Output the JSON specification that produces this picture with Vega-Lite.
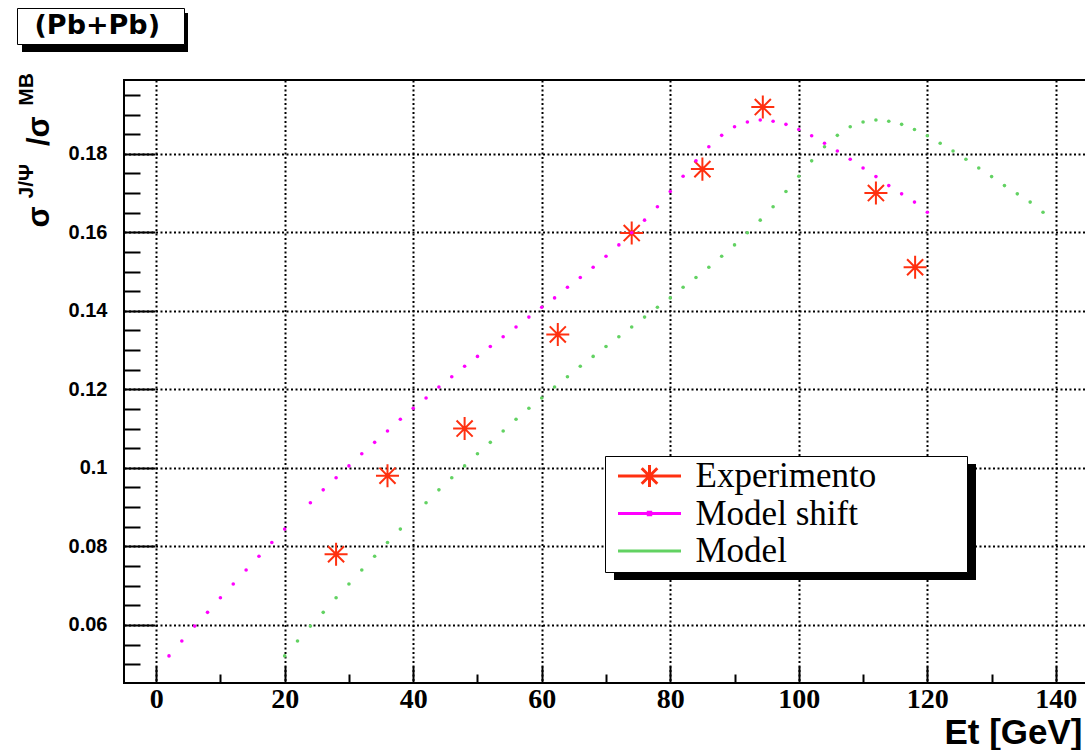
{
  "$schema": "https://vega.github.io/schema/vega-lite/v6.json",
  "width": 964,
  "height": 603,
  "autosize": {"type": "none"},
  "padding": {"left": 124, "top": 80, "right": 0, "bottom": 67},
  "background": "white",
  "config": {"view": {"stroke": "black", "strokeWidth": 2}},
  "datasets": {
    "pts": [
      {"series": "Model shift", "Et": 2, "ratio": 0.0521},
      {"series": "Model shift", "Et": 4, "ratio": 0.0559},
      {"series": "Model shift", "Et": 6, "ratio": 0.0597},
      {"series": "Model shift", "Et": 8, "ratio": 0.0632},
      {"series": "Model shift", "Et": 10, "ratio": 0.0669},
      {"series": "Model shift", "Et": 12, "ratio": 0.0704},
      {"series": "Model shift", "Et": 14, "ratio": 0.0740},
      {"series": "Model shift", "Et": 16, "ratio": 0.0775},
      {"series": "Model shift", "Et": 18, "ratio": 0.0810},
      {"series": "Model shift", "Et": 20, "ratio": 0.0844},
      {"series": "Model shift", "Et": 24, "ratio": 0.0911},
      {"series": "Model shift", "Et": 26, "ratio": 0.0944},
      {"series": "Model shift", "Et": 28, "ratio": 0.0975},
      {"series": "Model shift", "Et": 30, "ratio": 0.1005},
      {"series": "Model shift", "Et": 32, "ratio": 0.1036},
      {"series": "Model shift", "Et": 34, "ratio": 0.1065},
      {"series": "Model shift", "Et": 36, "ratio": 0.1094},
      {"series": "Model shift", "Et": 38, "ratio": 0.1124},
      {"series": "Model shift", "Et": 40, "ratio": 0.1152},
      {"series": "Model shift", "Et": 42, "ratio": 0.1178},
      {"series": "Model shift", "Et": 44, "ratio": 0.1206},
      {"series": "Model shift", "Et": 46, "ratio": 0.1232},
      {"series": "Model shift", "Et": 48, "ratio": 0.1259},
      {"series": "Model shift", "Et": 50, "ratio": 0.1284},
      {"series": "Model shift", "Et": 52, "ratio": 0.1309},
      {"series": "Model shift", "Et": 54, "ratio": 0.1334},
      {"series": "Model shift", "Et": 56, "ratio": 0.1359},
      {"series": "Model shift", "Et": 58, "ratio": 0.1384},
      {"series": "Model shift", "Et": 60, "ratio": 0.1409},
      {"series": "Model shift", "Et": 62, "ratio": 0.1433},
      {"series": "Model shift", "Et": 64, "ratio": 0.1460},
      {"series": "Model shift", "Et": 66, "ratio": 0.1485},
      {"series": "Model shift", "Et": 68, "ratio": 0.1511},
      {"series": "Model shift", "Et": 70, "ratio": 0.1539},
      {"series": "Model shift", "Et": 72, "ratio": 0.1568},
      {"series": "Model shift", "Et": 74, "ratio": 0.1599},
      {"series": "Model shift", "Et": 76, "ratio": 0.1631},
      {"series": "Model shift", "Et": 78, "ratio": 0.1665},
      {"series": "Model shift", "Et": 80, "ratio": 0.1704},
      {"series": "Model shift", "Et": 82, "ratio": 0.1743},
      {"series": "Model shift", "Et": 84, "ratio": 0.1782},
      {"series": "Model shift", "Et": 86, "ratio": 0.1818},
      {"series": "Model shift", "Et": 88, "ratio": 0.1847},
      {"series": "Model shift", "Et": 90, "ratio": 0.1869},
      {"series": "Model shift", "Et": 92, "ratio": 0.1881},
      {"series": "Model shift", "Et": 94, "ratio": 0.1886},
      {"series": "Model shift", "Et": 96, "ratio": 0.1883},
      {"series": "Model shift", "Et": 98, "ratio": 0.1875},
      {"series": "Model shift", "Et": 100, "ratio": 0.1862},
      {"series": "Model shift", "Et": 102, "ratio": 0.1846},
      {"series": "Model shift", "Et": 104, "ratio": 0.1827},
      {"series": "Model shift", "Et": 106, "ratio": 0.1807},
      {"series": "Model shift", "Et": 108, "ratio": 0.1786},
      {"series": "Model shift", "Et": 110, "ratio": 0.1764},
      {"series": "Model shift", "Et": 112, "ratio": 0.1742},
      {"series": "Model shift", "Et": 114, "ratio": 0.1719},
      {"series": "Model shift", "Et": 116, "ratio": 0.1698},
      {"series": "Model shift", "Et": 118, "ratio": 0.1677},
      {"series": "Model shift", "Et": 120, "ratio": 0.1651},
      {"series": "Model", "Et": 20, "ratio": 0.0521},
      {"series": "Model", "Et": 22, "ratio": 0.0559},
      {"series": "Model", "Et": 24, "ratio": 0.0597},
      {"series": "Model", "Et": 26, "ratio": 0.0632},
      {"series": "Model", "Et": 28, "ratio": 0.0669},
      {"series": "Model", "Et": 30, "ratio": 0.0704},
      {"series": "Model", "Et": 32, "ratio": 0.0740},
      {"series": "Model", "Et": 34, "ratio": 0.0775},
      {"series": "Model", "Et": 36, "ratio": 0.0810},
      {"series": "Model", "Et": 38, "ratio": 0.0844},
      {"series": "Model", "Et": 42, "ratio": 0.0911},
      {"series": "Model", "Et": 44, "ratio": 0.0944},
      {"series": "Model", "Et": 46, "ratio": 0.0975},
      {"series": "Model", "Et": 48, "ratio": 0.1005},
      {"series": "Model", "Et": 50, "ratio": 0.1036},
      {"series": "Model", "Et": 52, "ratio": 0.1065},
      {"series": "Model", "Et": 54, "ratio": 0.1094},
      {"series": "Model", "Et": 56, "ratio": 0.1124},
      {"series": "Model", "Et": 58, "ratio": 0.1152},
      {"series": "Model", "Et": 60, "ratio": 0.1178},
      {"series": "Model", "Et": 62, "ratio": 0.1206},
      {"series": "Model", "Et": 64, "ratio": 0.1232},
      {"series": "Model", "Et": 66, "ratio": 0.1259},
      {"series": "Model", "Et": 68, "ratio": 0.1284},
      {"series": "Model", "Et": 70, "ratio": 0.1309},
      {"series": "Model", "Et": 72, "ratio": 0.1334},
      {"series": "Model", "Et": 74, "ratio": 0.1359},
      {"series": "Model", "Et": 76, "ratio": 0.1384},
      {"series": "Model", "Et": 78, "ratio": 0.1409},
      {"series": "Model", "Et": 80, "ratio": 0.1433},
      {"series": "Model", "Et": 82, "ratio": 0.1460},
      {"series": "Model", "Et": 84, "ratio": 0.1485},
      {"series": "Model", "Et": 86, "ratio": 0.1511},
      {"series": "Model", "Et": 88, "ratio": 0.1539},
      {"series": "Model", "Et": 90, "ratio": 0.1568},
      {"series": "Model", "Et": 92, "ratio": 0.1599},
      {"series": "Model", "Et": 94, "ratio": 0.1631},
      {"series": "Model", "Et": 96, "ratio": 0.1665},
      {"series": "Model", "Et": 98, "ratio": 0.1704},
      {"series": "Model", "Et": 100, "ratio": 0.1743},
      {"series": "Model", "Et": 102, "ratio": 0.1782},
      {"series": "Model", "Et": 104, "ratio": 0.1818},
      {"series": "Model", "Et": 106, "ratio": 0.1847},
      {"series": "Model", "Et": 108, "ratio": 0.1869},
      {"series": "Model", "Et": 110, "ratio": 0.1881},
      {"series": "Model", "Et": 112, "ratio": 0.1886},
      {"series": "Model", "Et": 114, "ratio": 0.1883},
      {"series": "Model", "Et": 116, "ratio": 0.1875},
      {"series": "Model", "Et": 118, "ratio": 0.1862},
      {"series": "Model", "Et": 120, "ratio": 0.1846},
      {"series": "Model", "Et": 122, "ratio": 0.1827},
      {"series": "Model", "Et": 124, "ratio": 0.1807},
      {"series": "Model", "Et": 126, "ratio": 0.1786},
      {"series": "Model", "Et": 128, "ratio": 0.1764},
      {"series": "Model", "Et": 130, "ratio": 0.1742},
      {"series": "Model", "Et": 132, "ratio": 0.1719},
      {"series": "Model", "Et": 134, "ratio": 0.1698},
      {"series": "Model", "Et": 136, "ratio": 0.1677},
      {"series": "Model", "Et": 138, "ratio": 0.1651},
      {"series": "Experimento", "Et": 28, "ratio": 0.0780},
      {"series": "Experimento", "Et": 36, "ratio": 0.0980},
      {"series": "Experimento", "Et": 48, "ratio": 0.1100},
      {"series": "Experimento", "Et": 62.5, "ratio": 0.1340},
      {"series": "Experimento", "Et": 74, "ratio": 0.1598},
      {"series": "Experimento", "Et": 85, "ratio": 0.1761},
      {"series": "Experimento", "Et": 94.4, "ratio": 0.1919},
      {"series": "Experimento", "Et": 112, "ratio": 0.1700},
      {"series": "Experimento", "Et": 118.1, "ratio": 0.1511}
    ],
    "legrows": [{"series": "Experimento"}, {"series": "Model shift"}, {"series": "Model"}],
    "legshadow": [{"s": "shadow"}],
    "tagrows": [{"tag": "(Pb+Pb)"}],
    "tagshadow": [{"tag_s": "shadow"}]
  },
  "resolve": {"axis": {"y": "independent"}},
  "layer": [
    {
      "data": {"name": "pts"},
      "transform": [{"filter": "datum.series === 'Experimento'"}],
      "mark": {"type": "point", "shape": "M-1,0H1M0,-1V1M-0.7,-0.7L0.7,0.7M-0.7,0.7L0.7,-0.7", "size": 530, "stroke": "#ff3010", "strokeWidth": 2, "filled": false, "opacity": 1},
      "encoding": {
        "x": {
          "field": "Et", "type": "quantitative",
          "scale": {"domain": [-5, 145], "nice": false, "zero": false},
          "axis": {
            "orient": "bottom",
            "values": [0, 5, 10, 15, 20, 25, 30, 35, 40, 45, 50, 55, 60, 65, 70, 75, 80, 85, 90, 95, 100, 105, 110, 115, 120, 125, 130, 135, 140],
            "domain": false,
            "grid": true, "gridColor": "black", "gridDash": [2, 2.5], "gridWidth": 2,
            "gridOpacity": {"condition": {"test": "datum.value % 20 === 0", "value": 1}, "value": 0},
            "ticks": true, "tickColor": "black", "tickWidth": 2,
            "tickSize": {"condition": {"test": "datum.value % 20 === 0", "value": -17}, "value": -9},
            "labelExpr": "datum.value % 20 === 0 ? datum.label : ''",
            "labelFont": "Liberation Sans Narrow", "labelFontWeight": "bold", "labelFontSize": 28, "labelColor": "black",
            "labelPadding": 19, "labelOverlap": false, "labelFlush": false, "labelBound": false,
            "title": "Et [GeV]", "titleFont": "Liberation Sans", "titleFontWeight": "bold", "titleFontSize": 35, "titleColor": "black",
            "titleX": 958, "titleY": 60, "titleAlign": "right", "titleBaseline": "alphabetic"
          }
        },
        "y": {
          "field": "ratio", "type": "quantitative",
          "scale": {"domain": [0.0452, 0.1988], "nice": false, "zero": false},
          "axis": {
            "orient": "left",
            "values": [0.05, 0.055, 0.06, 0.065, 0.07, 0.075, 0.08, 0.085, 0.09, 0.095, 0.1, 0.105, 0.11, 0.115, 0.12, 0.125, 0.13, 0.135, 0.14, 0.145, 0.15, 0.155, 0.16, 0.165, 0.17, 0.175, 0.18, 0.185, 0.19, 0.195],
            "domain": false,
            "grid": true, "gridColor": "black", "gridDash": [2, 2.5], "gridWidth": 2,
            "gridOpacity": {"condition": {"test": "abs(datum.value*50 - round(datum.value*50)) < 0.001", "value": 1}, "value": 0},
            "ticks": true, "tickColor": "black", "tickWidth": 2,
            "tickSize": {"condition": {"test": "abs(datum.value*50 - round(datum.value*50)) < 0.001", "value": -31}, "value": -16},
            "labelExpr": "abs(datum.value*50 - round(datum.value*50)) < 0.001 ? format(datum.value, '.2~f') : ''",
            "labelFont": "Liberation Sans", "labelFontWeight": "bold", "labelFontSize": 20, "labelColor": "black",
            "labelPadding": 48, "labelOverlap": false, "labelFlush": false, "labelBound": false,
            "title": "σ\u00a0\u00a0\u00a0\u00a0\u00a0\u00a0\u00a0/σ", "titleFont": "Liberation Sans", "titleFontWeight": "bold", "titleFontSize": 31, "titleColor": "black",
            "titleAngle": -90, "titleAlign": "left", "titleBaseline": "alphabetic", "titleX": -76, "titleY": 147
          }
        }
      }
    },
    {
      "data": {"name": "pts"},
      "transform": [{"filter": "datum.series !== 'Experimento'"}],
      "mark": {"type": "circle", "size": 13, "opacity": 1},
      "encoding": {
        "x": {"field": "Et", "type": "quantitative"},
        "y": {
          "field": "ratio", "type": "quantitative",
          "axis": {
            "orient": "left", "domain": false, "ticks": false, "labels": false, "grid": false,
            "title": "J/Ψ\u00a0\u00a0\u00a0\u00a0\u00a0\u00a0\u00a0\u00a0\u00a0\u00a0MB", "titleFont": "Liberation Sans", "titleFontWeight": "bold", "titleFontSize": 21, "titleColor": "black",
            "titleAngle": -90, "titleAlign": "left", "titleBaseline": "alphabetic", "titleX": -92, "titleY": 118
          }
        },
        "color": {
          "field": "series", "type": "nominal",
          "scale": {"domain": ["Experimento", "Model shift", "Model"], "range": ["#ff3010", "#ff00ff", "#62d262"]}
        }
      }
    },
    {
      "data": {"name": "legrows"},
      "mark": {"type": "point", "opacity": 0, "filled": false, "strokeWidth": 3},
      "encoding": {
        "color": {
          "field": "series", "type": "nominal",
          "scale": {"domain": ["Experimento", "Model shift", "Model"], "range": ["#ff3010", "#ff00ff", "#62d262"]},
          "legend": {
            "orient": "none", "legendX": 481, "legendY": 376, "title": null, "zindex": 2,
            "fillColor": "white", "strokeColor": "black", "padding": 2.5, "rowPadding": 1.5,
            "symbolSize": 576, "symbolStrokeWidth": 3, "symbolOpacity": 1, "symbolOffset": 5,
            "labelFont": "Liberation Serif", "labelFontSize": 35, "labelColor": "black", "labelOffset": 48, "labelLimit": 600,
            "labelExpr": "datum.label + '\u00a0\u00a0\u00a0\u00a0\u00a0\u00a0\u00a0\u00a0\u00a0\u00a0\u200b'"
          }
        },
        "shape": {
          "field": "series", "type": "nominal",
          "scale": {"domain": ["Experimento", "Model shift", "Model"], "range": ["M-1,0H4.25M1.625,-0.92V0.92M0.975,-0.65L2.275,0.65M0.975,0.65L2.275,-0.65", "M-1,0H4.25M1.525,-0.1H1.725V0.1H1.525Z", "M-1,0H4.25"]},
          "legend": {
            "orient": "none", "legendX": 481, "legendY": 376, "title": null, "zindex": 2,
            "fillColor": "white", "strokeColor": "black", "padding": 2.5, "rowPadding": 1.5,
            "symbolSize": 576, "symbolStrokeWidth": 3, "symbolOpacity": 1, "symbolOffset": 5,
            "labelFont": "Liberation Serif", "labelFontSize": 35, "labelColor": "black", "labelOffset": 48, "labelLimit": 600,
            "labelExpr": "datum.label + '\u00a0\u00a0\u00a0\u00a0\u00a0\u00a0\u00a0\u00a0\u00a0\u00a0\u200b'"
          }
        }
      }
    },
    {
      "data": {"name": "legshadow"},
      "mark": {"type": "point", "opacity": 0, "filled": true, "color": "black"},
      "encoding": {
        "strokeDash": {
          "field": "s", "type": "nominal",
          "legend": {
            "orient": "none", "legendX": 490, "legendY": 261, "title": null, "zindex": 1,
            "padding": 0, "symbolOffset": 0,
            "symbolType": "M-1,-0.32H1V0.32H-1Z", "symbolSize": 131044, "symbolStrokeWidth": 0, "symbolOpacity": 1,
            "symbolFillColor": "black", "symbolStrokeColor": "black",
            "labelExpr": "''", "labelOffset": 0, "labelFontSize": 1
          }
        }
      }
    },
    {
      "data": {"name": "tagrows"},
      "mark": {"type": "point", "opacity": 0},
      "encoding": {
        "fill": {
          "field": "tag", "type": "nominal",
          "legend": {
            "orient": "none", "legendX": -107, "legendY": -72, "title": null, "zindex": 2,
            "fillColor": "white", "strokeColor": "black", "padding": 4.5,
            "symbolSize": 0, "symbolStrokeWidth": 0, "symbolOpacity": 0,
            "labelFont": "DejaVu Sans", "labelFontWeight": "bold", "labelFontSize": 27, "labelColor": "black", "labelOffset": -14, "labelLimit": 400,
            "labelExpr": "datum.label + '\u00a0\u00a0\u200b'"
          }
        }
      }
    },
    {
      "data": {"name": "tagshadow"},
      "mark": {"type": "point", "opacity": 0, "filled": true, "color": "black"},
      "encoding": {
        "stroke": {
          "field": "tag_s", "type": "nominal",
          "legend": {
            "orient": "none", "legendX": -102, "legendY": -130.5, "title": null, "zindex": 1,
            "padding": 0, "symbolOffset": 0,
            "symbolType": "M-1,-0.235H1V0.235H-1Z", "symbolSize": 27556, "symbolStrokeWidth": 0, "symbolOpacity": 1,
            "symbolFillColor": "black", "symbolStrokeColor": "black",
            "labelExpr": "''", "labelOffset": 0, "labelFontSize": 1
          }
        }
      }
    }
  ]
}
